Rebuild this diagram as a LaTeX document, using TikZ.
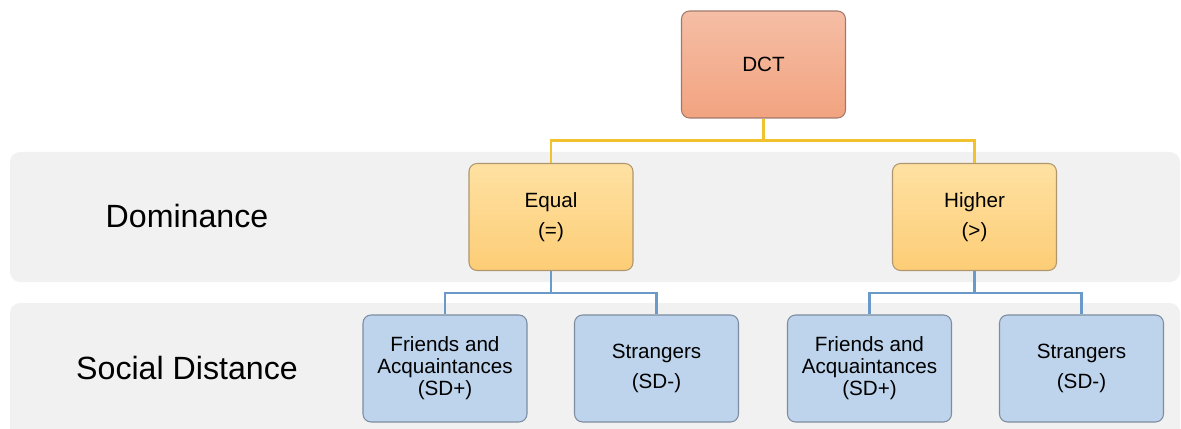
\documentclass[tikz,border=0pt]{standalone}
\usepackage{fontspec}
\setmainfont{Liberation Sans}
\definecolor{dcttop}{RGB}{245, 190, 165}
\definecolor{dctbot}{RGB}{242, 163, 128}
\definecolor{dctedge}{RGB}{160, 120, 108}
\definecolor{domtop}{RGB}{254, 225, 162}
\definecolor{dombot}{RGB}{253, 205, 118}
\definecolor{domedge}{RGB}{176, 150, 110}
\definecolor{sdfill}{RGB}{189, 212, 236}
\definecolor{sdedge}{RGB}{125, 140, 160}
\definecolor{bandgray}{RGB}{241, 241, 241}
\definecolor{linkyel}{RGB}{242, 193, 46}
\definecolor{linkblue}{RGB}{106, 154, 202}
\usetikzlibrary{positioning, calc}

\begin{document}
\begin{tikzpicture}[x=0.02cm, y=-0.02cm,
  box/.style={rounded corners=0.16cm, line width=0.6pt, minimum width=3.28cm,
    minimum height=2.14cm, align=center, font=\fontsize{11.75}{12.5}\selectfont},
  dctbox/.style={box, draw=dctedge, top color=dcttop, bottom color=dctbot},
  dombox/.style={box, draw=domedge, top color=domtop, bottom color=dombot},
  sdbox/.style={box, draw=sdedge, fill=sdfill},
  band/.style={fill=bandgray, rounded corners=0.2cm},
  bandlabel/.style={font=\fontsize{18.3}{22}\selectfont},
  ylink/.style={linkyel, line width=1.2pt},
  blink/.style={linkblue, line width=1.2pt}]
  \useasboundingbox (0, 0) rectangle (1181, 429);
  \clip (0, 0) rectangle (1181, 429);
  % background bands
  \fill[band] (10, 152) rectangle (1180, 282);
  \fill[band] (10, 303) rectangle (1180, 440);
  \node[bandlabel] (domlabel) at (187, 216) {Dominance};
  \node[bandlabel] (sdlabel) at (187, 368) {Social Distance};
  % boxes
  \node[dctbox] (dct) at (763.5, 64.5) {DCT};
  \node[dombox] (equal) at (551, 217) {Equal\\[4.5pt](=)};
  \node[dombox] (higher) at (974.5, 217) {Higher\\[4.5pt](>)};
  \node[sdbox] (friendsA) at (445, 368.5) {Friends and\\Acquaintances\\(SD+)};
  \node[sdbox] (strangersA) at (656.5, 368.5) {Strangers\\[4.5pt](SD-)};
  \node[sdbox] (friendsB) at (869.5, 368.5) {Friends and\\Acquaintances\\(SD+)};
  \node[sdbox] (strangersB) at (1081.5, 368.5) {Strangers\\[4.5pt](SD-)};
  % links
  \draw[ylink] (dct.south) -- ++(0, 22) -| (equal.north);
  \draw[ylink] (dct.south) -- ++(0, 22) -| (higher.north);
  \draw[blink] (equal.south) -- ++(0, 22) -| (friendsA.north);
  \draw[blink] (equal.south) -- ++(0, 22) -| (strangersA.north);
  \draw[blink] (higher.south) -- ++(0, 22) -| (friendsB.north);
  \draw[blink] (higher.south) -- ++(0, 22) -| (strangersB.north);
\end{tikzpicture}
\end{document}
